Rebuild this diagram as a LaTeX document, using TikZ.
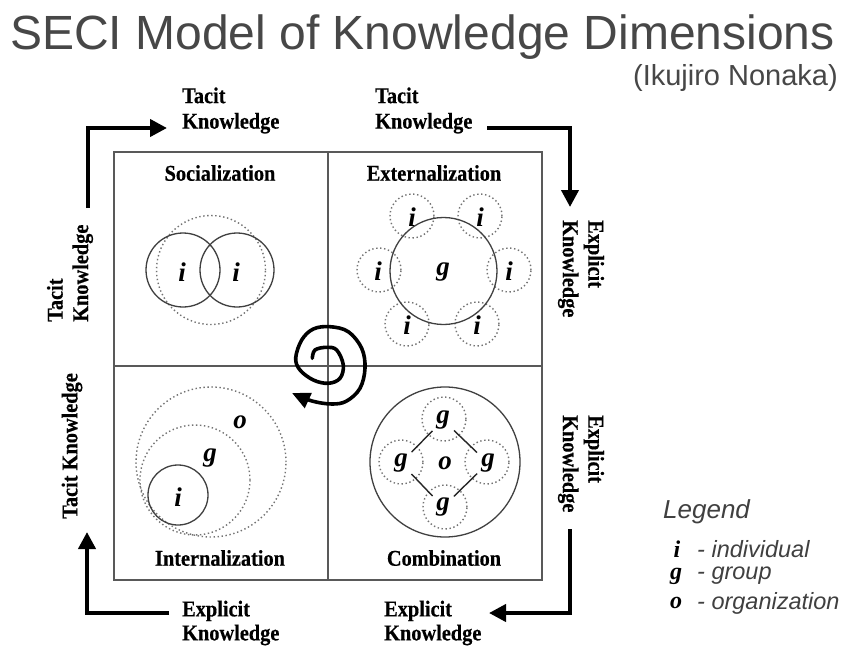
\documentclass[tikz,border=0pt]{standalone}
\usepackage{fontspec}
\setmainfont{Liberation Serif}
\newfontfamily\titlefont{Liberation Sans}
\newfontfamily\lblfont{Liberation Serif}[FakeStretch=0.9, BoldFeatures={FakeBold=0.4}]
\usetikzlibrary{arrows.meta}
\begin{document}
\begin{tikzpicture}[x=1pt,y=-1pt,
  lbl/.style={font=\lblfont\fontsize{22.6}{25.5}\selectfont\bfseries, inner sep=0pt, align=left},
  lblb/.style={font=\lblfont\fontsize{22.6}{24}\selectfont\bfseries, inner sep=0pt, align=left},
  qtitle/.style={font=\lblfont\fontsize{22.6}{25}\selectfont\bfseries, inner sep=0pt},
  letter/.style={font=\fontsize{27}{27}\selectfont\bfseries\itshape, inner sep=0pt},
  gnode/.style={letter, circle, minimum size=30pt},
  solidc/.style={draw=black!75, line width=1.3pt},
  dotc/.style={draw=black!55, line width=1.4pt, dash pattern=on 1.4pt off 2.6pt},
  bigarrow/.style={line width=4pt, -{Triangle[length=17pt,width=17pt]}},
  spiralarrow/.style={line width=3.6pt, -{Triangle[length=18pt,width=16pt]}},
  framestyle/.style={draw=black!65, line width=1.3pt},
  legtext/.style={font=\titlefont\itshape\fontsize{23.5}{24}\selectfont, text=black!75, inner sep=0pt, anchor=west},
  legsym/.style={font=\fontsize{24}{24}\selectfont\bfseries\itshape, inner sep=0pt},
  combline/.style={draw=black!85, line width=1.4pt}]
\useasboundingbox (0,0) rectangle (847,648);
\fill[white] (0,0) rectangle (847,648);

% title
\node[anchor=base west, font=\titlefont\fontsize{48}{48}\selectfont, text=black!72, inner sep=0pt] (title) at (10,49.5) {SECI Model of Knowledge Dimensions};
\node[anchor=base east, font=\titlefont\fontsize{29}{29}\selectfont, text=black!72, inner sep=0pt] (author) at (838,85) {(Ikujiro Nonaka)};

% frame
\draw[framestyle] (114,152) rectangle (542,580);
\draw[framestyle] (328,152) -- (328,580);
\draw[framestyle] (114,366) -- (542,366);

% quadrant titles
\node[qtitle] (soc) at (220,173) {Socialization};
\node[qtitle] (ext) at (434,173) {Externalization};
\node[qtitle] (int) at (220,558) {Internalization};
\node[qtitle] (com) at (444,558) {Combination};

% outer labels
\node[lbl, anchor=west] (tl) at (182,110.5) {Tacit\\Knowledge};
\node[lbl, anchor=west] (tr) at (375,110.5) {Tacit\\Knowledge};
\node[lblb, anchor=west] (bl) at (182,623) {Explicit\\Knowledge};
\node[lblb, anchor=west] (br) at (384,623) {Explicit\\Knowledge};
\node[lbl, anchor=west, rotate=90] (lu) at (70,322) {Tacit\\Knowledge};
\node[lbl, rotate=90] (ll) at (72,446) {Tacit Knowledge};
\node[lbl, anchor=west, rotate=-90] (ru) at (581,220) {Explicit\\Knowledge};
\node[lbl, anchor=west, rotate=-90] (rl) at (581,415) {Explicit\\Knowledge};

% big arrows
\coordinate (a1s) at (88,208);  \coordinate (a1e) at (167,128);
\coordinate (a2s) at (487,128); \coordinate (a2e) at (570,207);
\coordinate (a3s) at (570,529); \coordinate (a3e) at (489,613);
\coordinate (a4s) at (169,613); \coordinate (a4e) at (87,532);
\draw[bigarrow] (a1s) |- (a1e);
\draw[bigarrow] (a2s) -| (a2e);
\draw[bigarrow] (a3s) |- (a3e);
\draw[bigarrow] (a4s) -| (a4e);

% Socialization
\draw[dotc] (211,270) circle[radius=54.5pt];
\draw[solidc] (183,270) circle[radius=37pt];
\draw[solidc] (237,270) circle[radius=37pt];
\node[letter] (si1) at (182,272) {i};
\node[letter] (si2) at (236,272) {i};

% Externalization
\foreach \n/\px/\py in {e1/412/216, e2/480/216, e3/379/270, e4/509/270, e5/407/324, e6/477/324}{
  \draw[dotc] (\px,\py) circle[radius=22pt];
}
\draw[solidc] (443.5,271) circle[radius=53.5pt];
\node[letter] (ei1) at (412,217) {i};
\node[letter] (ei2) at (480,217) {i};
\node[letter] (ei3) at (378,271) {i};
\node[letter] (ei4) at (509,271) {i};
\node[letter] (ei5) at (407,325) {i};
\node[letter] (ei6) at (477,325) {i};
\node[letter] (eg) at (443,272) {g};

% Internalization
\draw[dotc] (211,462) circle[radius=75pt];
\draw[dotc] (195,480) circle[radius=55pt];
\draw[solidc] (178,495) circle[radius=30pt];
\node[letter] (ii) at (178,497) {i};
\node[letter] (ig) at (210,458) {g};
\node[letter] (io) at (240,422) {o};

% Combination
\draw[solidc] (445,462) circle[radius=75pt];
\draw[dotc] (444,419) circle[radius=22pt];
\draw[dotc] (401,462) circle[radius=22pt];
\draw[dotc] (487,462) circle[radius=22pt];
\draw[dotc] (445,507) circle[radius=22pt];
\node[gnode] (cgt) at (443,420) {g};
\node[gnode] (cgl) at (401,463) {g};
\node[gnode] (cgr) at (488,463) {g};
\node[gnode] (cgb) at (443,507) {g};
\node[letter] (co) at (445,463) {o};
\draw[combline] (cgl) -- (cgt);
\draw[combline] (cgt) -- (cgr);
\draw[combline] (cgl) -- (cgb);
\draw[combline] (cgb) -- (cgr);

% spiral
\draw[spiralarrow, line cap=round] plot[smooth, tension=0.6] coordinates {
 (312.3,358.3) (315,350) (326.7,347.3) (336.7,350) (343.3,365) (340,378.3)
 (328.3,383.3) (313.3,380) (300,370) (295.7,358) (301.7,340) (313.3,329)
 (330,326.7) (348.3,331.7) (361.7,348.3) (365,368.3) (360,388.3) (346.7,401)
 (332,404) (312,401) (292,393)};

% legend
\node[font=\titlefont\itshape\fontsize{26}{26}\selectfont, text=black!75, inner sep=0pt, anchor=west] (leg) at (663,512) {Legend};
\node[legsym] (lsi) at (677,549) {i};
\node[legsym] (lsg) at (676,576) {g};
\node[legsym] (lso) at (676,603) {o};
\node[legtext] (lti) at (697,549) {- individual};
\node[legtext] (ltg) at (697,576) {- group};
\node[legtext] (lto) at (697,603) {- organization};
\end{tikzpicture}
\end{document}
